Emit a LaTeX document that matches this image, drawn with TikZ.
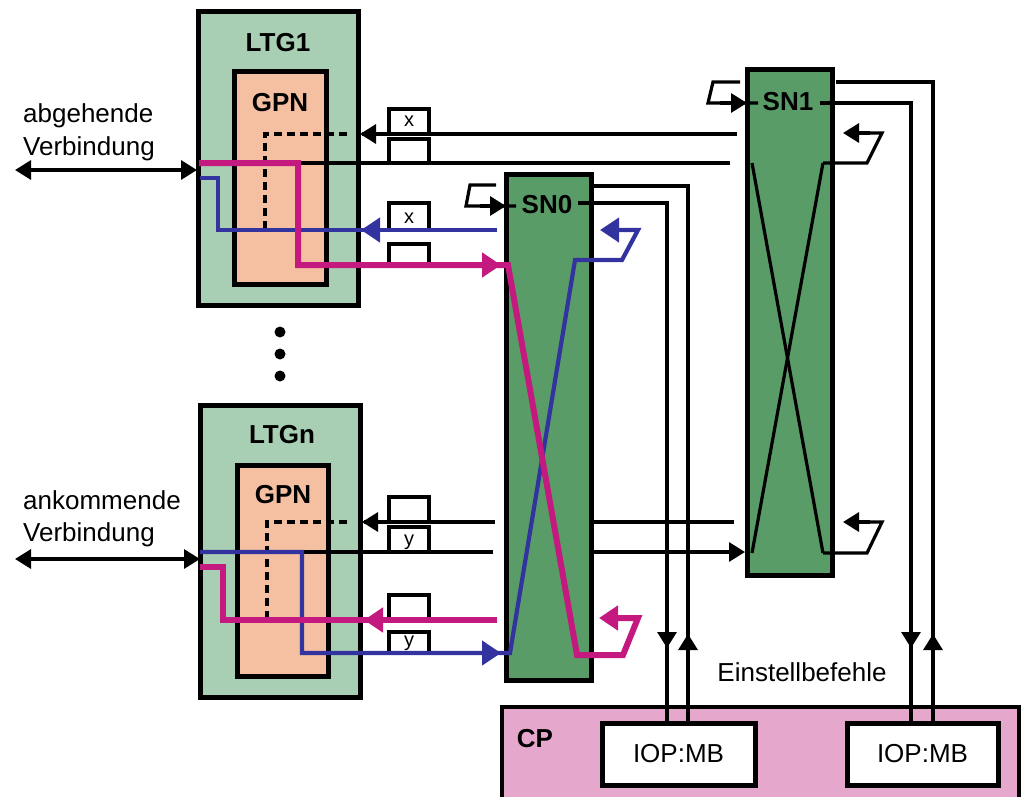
\documentclass[tikz,border=0pt]{standalone}
\usepackage{fontspec}
\setmainfont{Liberation Sans}
\usetikzlibrary{arrows.meta,fit}
\definecolor{ltggreen}{HTML}{A8CFB3}
\definecolor{gpnsalmon}{HTML}{F5BFA2}
\definecolor{sngreen}{HTML}{5A9C68}
\definecolor{cppink}{HTML}{E5A7CB}
\definecolor{magc}{HTML}{C4197E}
\definecolor{bluc}{HTML}{3333A0}
\begin{document}
\begin{tikzpicture}[x=1pt,y=-1pt,
  box/.style={draw=black, line width=5pt, inner sep=0pt},
  wire/.style={line width=3.2pt},
  dwire/.style={line width=3.2pt, dash pattern=on 8pt off 5pt},
  blk/.style={-{Triangle[length=16pt,width=19pt]}},
  bigtip/.style={-{Triangle[length=19pt,width=24pt]}},
  mag/.style={draw=magc, line width=6pt},
  blu/.style={draw=bluc, line width=4.2pt},
  lab/.style={font=\fontsize{26}{30}\selectfont\bfseries, anchor=base, inner sep=0pt},
  txt/.style={font=\fontsize{26}{30}\selectfont, inner sep=0pt},
  sml/.style={font=\fontsize{20}{22}\selectfont, anchor=base, inner sep=0pt},
  tab/.style={line width=3.6pt}
]
\useasboundingbox (0,0) rectangle (1022,797);
\fill[white] (0,0) rectangle (1022,797);

% ---- boxes
\node[box, fill=ltggreen, fit={(198,12) (358,305)}] (ltg1) {};
\node[box, fill=gpnsalmon, fit={(234,72) (326,284)}] (gpn1) {};
\node[box, fill=ltggreen, fit={(200,405) (360,697)}] (ltgn) {};
\node[box, fill=gpnsalmon, fit={(237,465) (328,676)}] (gpnn) {};
\node[box, fill=sngreen, fit={(506,174) (591,680)}] (sn0) {};
\node[box, fill=sngreen, fit={(747,70) (832,575)}] (sn1) {};
\node[draw=black, line width=3.5pt, inner sep=0pt, fill=cppink, fit={(502,707) (1019,812)}] (cp) {};
\node[box, fill=white, fit={(602,723) (755,785)}] (iop1) {};
\node[box, fill=white, fit={(847,723) (998,785)}] (iop2) {};

% ---- small tabs
\foreach \t/\b in {109/134,139/163,203/230,244/265,497/522,527/552,595/620,632/653}{
  \draw[tab] (389,\b) -- (389,\t) -- (429,\t) -- (429,\b);
}
\node[sml] (x1) at (409,127) {x};
\node[sml] (x2) at (409,223) {x};
\node[sml] (y1) at (409,545) {y};
\node[sml] (y2) at (409,646) {y};

% ---- dots
\foreach \yy in {332,354,376}{ \fill (280,\yy) circle (5.5pt); }

% ---- black wires, upper LTG1
\draw[wire] (737,134) -- (362,134);
\draw[wire, blk] (400,134) -- (360,134);
\draw[dwire] (347,134) -- (265,134) -- (265,232);
\draw[wire] (730,163) -- (300,163);

% ---- black wires, lower LTGn
\draw[wire] (495,522) -- (364,522);
\draw[wire, blk] (400,522) -- (362,522);
\draw[dwire] (347,522) -- (267,522) -- (267,620);
\draw[wire] (493,552) -- (302,552);

% ---- SN0 -> SN1
\draw[wire] (591,522) -- (734,522);
\draw[wire, blk] (591,552) -- (745,552);

% ---- SN0 control loop and lines
\draw[wire] (496,185) -- (470,185) -- (466,206) -- (516,206);
\draw[wire, blk] (480,206) -- (506,206);
\draw[wire] (578,203) -- (667,203) -- (667,723);
\draw[wire] (593,186) -- (688,186) -- (688,723);
\draw[wire, blk] (667,620) -- (667,648);
\draw[wire, blk] (688,690) -- (688,634);

% ---- SN1 control loop and lines
\draw[wire] (740,82) -- (713,82) -- (708,103) -- (758,103);
\draw[wire, blk] (720,103) -- (747,103);
\draw[wire] (820,103) -- (911,103) -- (911,723);
\draw[wire] (836,82) -- (933,82) -- (933,723);
\draw[wire, blk] (911,620) -- (911,648);
\draw[wire, blk] (933,690) -- (933,634);

% ---- SN1 cross and loops
\draw[wire] (752,163) -- (823,553);
\draw[wire] (823,163) -- (752,553);
\draw[wire] (823,163) -- (867,163) -- (882,133) -- (860,133);
\draw[wire, blk] (870,133) -- (843,133);
\draw[wire] (823,553) -- (867,553) -- (882,522) -- (860,522);
\draw[wire, blk] (870,522) -- (843,522);

% ---- left double arrows
\draw[wire, {Triangle[length=16pt,width=19pt]}-{Triangle[length=16pt,width=19pt]}] (15,170) -- (197,170);
\draw[wire, {Triangle[length=16pt,width=19pt]}-{Triangle[length=16pt,width=19pt]}] (15,559) -- (200,559);

% ---- blue paths
\draw[blu] (497,230) -- (218,230) -- (218,178) -- (200,178);
\draw[blu, bigtip] (420,230) -- (361,230);
\draw[blu] (200,552) -- (302,552) -- (302,653) -- (510,653) -- (575,260) -- (622,260) -- (638,230) -- (615,230);
\draw[blu, bigtip] (470,653) -- (501,653);
\draw[blu, bigtip] (625,230) -- (600,230);

% ---- magenta paths
\draw[mag] (199,163) -- (298,163) -- (298,265) -- (508,265) -- (577,655) -- (623,655) -- (638,618) -- (615,618);
\draw[mag, bigtip] (460,265) -- (501,265);
\draw[mag, bigtip] (625,618) -- (599,618);
\draw[mag] (497,620) -- (223,620) -- (223,567) -- (200,567);
\draw[mag, bigtip] (420,620) -- (364,620);

% ---- labels
\node[lab] (tltg1) at (278,52) {LTG1};
\node[lab] (tgpn1) at (280,112) {GPN};
\node[lab] (tltgn) at (282,443) {LTGn};
\node[lab] (tgpnn) at (283,503) {GPN};
\node[lab] (tsn0) at (547,213) {SN0};
\node[lab] (tsn1) at (788,111) {SN1};
\node[lab] (tcp) at (535,747) {CP};
\node[txt] (tiop1) at (iop1) {IOP:MB};
\node[txt] (tiop2) at (iop2) {IOP:MB};
\node[txt, anchor=base] (tein) at (802,681) {Einstellbefehle};
\node[txt, anchor=base west] (tabg) at (23,122) {abgehende};
\node[txt, anchor=base west] (tv1) at (23,155) {Verbindung};
\node[txt, anchor=base west] (tank) at (23,509) {ankommende};
\node[txt, anchor=base west] (tv2) at (23,541) {Verbindung};
\end{tikzpicture}
\end{document}
